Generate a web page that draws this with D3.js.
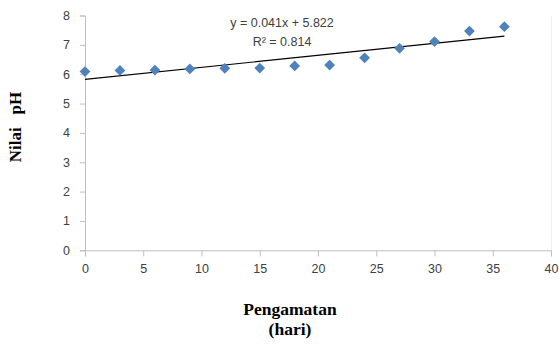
<!DOCTYPE html>
<html>
<head>
<meta charset="utf-8">
<script src="https://cdn.jsdelivr.net/npm/d3@7"></script>
<style>
  body { margin: 0; background: #fff; }
  svg { display: block; }
</style>
</head>
<body>
<figure id="scatter-plot" style="margin:0"></figure>
<script>
const days = [0, 3, 6, 9, 12, 15, 18, 21, 24, 27, 30, 33, 36];
const phValues = [6.09, 6.13, 6.14, 6.18, 6.2, 6.21, 6.28, 6.31, 6.56, 6.88, 7.11, 7.47, 7.62];
const xTicks = [0, 5, 10, 15, 20, 25, 30, 35, 40];
const yTicks = [0, 1, 2, 3, 4, 5, 6, 7, 8];
const slope = 0.041, intercept = 5.822;
const eqLines = ['y = 0.041x + 5.822', 'R² = 0.814'];

const width = 559, height = 344;
const margin = { left: 85, right: 8, top: 15, bottom: 94 };

const svg = d3.select('figure#scatter-plot')
  .append('svg')
  .attr('width', width)
  .attr('height', height);

const xScale = d3.scaleLinear().domain([0, 40]).range([margin.left, 551]);
const yScale = d3.scaleLinear().domain([0, 8]).range([250.3, 15.5]);

// faint plot area border on the right
svg.append('line')
  .attr('x1', 551.5).attr('x2', 551.5)
  .attr('y1', yScale(8)).attr('y2', yScale(0))
  .attr('stroke', '#f0f0f0');

// x axis
const xAxis = svg.append('g')
  .attr('transform', 'translate(0,' + yScale(0) + ')')
  .call(d3.axisBottom(xScale).tickValues(xTicks).tickSize(6).tickPadding(8));
// y axis
const yAxis = svg.append('g')
  .attr('transform', 'translate(' + margin.left + ',0)')
  .call(d3.axisLeft(yScale).tickValues(yTicks).tickSize(5).tickPadding(10));

[xAxis, yAxis].forEach(g => {
  g.select('.domain').attr('stroke', '#bfbfbf');
  g.selectAll('.tick line').attr('stroke', '#bfbfbf');
  g.selectAll('.tick text')
    .attr('fill', '#404040')
    .style('font-family', 'Liberation Sans, Arial, sans-serif')
    .style('font-size', '12.5px');
});

// trendline
svg.append('line')
  .attr('x1', xScale(0)).attr('y1', yScale(intercept))
  .attr('x2', xScale(36)).attr('y2', yScale(slope * 36 + intercept))
  .attr('stroke', '#000')
  .attr('stroke-width', 1.2);

// diamonds
svg.append('g').selectAll('path')
  .data(days)
  .join('path')
  .attr('d', d3.symbol(d3.symbolSquare, 58))
  .attr('transform', (d, i) => 'translate(' + xScale(d) + ',' + yScale(phValues[i]) + ') rotate(45)')
  .attr('fill', '#4f81bd');

// equation label
svg.append('g').selectAll('text')
  .data(eqLines)
  .join('text')
  .attr('x', 282)
  .attr('y', (d, i) => 27 + i * 19)
  .attr('text-anchor', 'middle')
  .attr('fill', '#404040')
  .style('font-family', 'Liberation Sans, Arial, sans-serif')
  .style('font-size', '12.5px')
  .text(d => d);

// axis titles
svg.append('text')
  .attr('transform', 'translate(21,127) rotate(-90)')
  .attr('text-anchor', 'middle')
  .style('white-space', 'pre')
  .style('font-family', 'Liberation Serif, Times New Roman, serif')
  .style('font-weight', 'bold')
  .style('font-size', '17px')
  .text('Nilai   pH');

svg.append('g').selectAll('text')
  .data(['Pengamatan', '(hari)'])
  .join('text')
  .attr('x', 290)
  .attr('y', (d, i) => 315 + i * 20)
  .attr('text-anchor', 'middle')
  .style('font-family', 'Liberation Serif, Times New Roman, serif')
  .style('font-weight', 'bold')
  .style('font-size', '17.5px')
  .text(d => d);
</script>
</body>
</html>
